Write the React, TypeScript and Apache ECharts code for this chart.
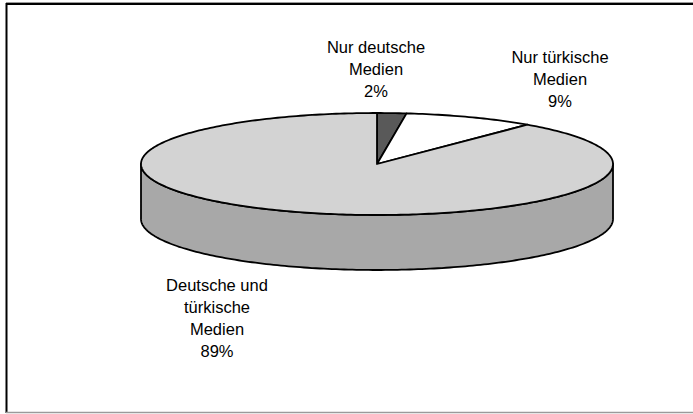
import React, { useEffect, useRef } from "react";
import * as echarts from "echarts";

const categories = [
  "Nur deutsche\nMedien",
  "Nur türkische\nMedien",
  "Deutsche und\ntürkische\nMedien",
];
const values = [2, 9, 89];
const sliceColors = ["#595959", "#ffffff", "#d3d3d3"];
const sideColors = ["#3f3f3f", "#c0c0c0", "#a8a8a8"];
const labelCenters = [
  [376, 69],
  [560, 79],
  [217, 318],
];

const CX = 377;
const CY = 164;
const RX = 236;
const RY = 51;
const DEPTH = 55;
const FONT = "'Liberation Sans', Arial, sans-serif";

function pt(deg: number, dy = 0): number[] {
  const r = (deg * Math.PI) / 180;
  return [CX + RX * Math.cos(r), CY - RY * Math.sin(r) + dy];
}
function arc(from: number, to: number, dy: number): number[][] {
  const pts: number[][] = [];
  const n = Math.max(2, Math.ceil(Math.abs(from - to)));
  for (let i = 0; i <= n; i++) pts.push(pt(from + ((to - from) * i) / n, dy));
  return pts;
}

const total = values.reduce((a, b) => a + b, 0);

function renderItem(params: any, api: any) {
  const i = params.dataIndex;
  const v = api.value(0);
  const before = values.slice(0, i).reduce((a, b) => a + b, 0);
  const a0 = 90 - (360 * before) / total;
  const a1 = 90 - (360 * (before + v)) / total;
  const children: any[] = [];
  const fronts = [
    [-180, 0],
    [-540, -360],
  ];
  for (const [lo, hi] of fronts) {
    const s = Math.min(a0, hi);
    const e = Math.max(a1, lo);
    if (s > e) {
      const pts = arc(s, e, 0).concat(arc(e, s, DEPTH));
      children.push({
        type: "polygon",
        z2: 1,
        shape: { points: pts },
        style: { fill: sideColors[i], stroke: "#000", lineWidth: 1.8, lineJoin: "round" },
      });
    }
  }
  children.push({
    type: "polygon",
    z2: 5,
    shape: { points: [[CX, CY]].concat(arc(a0, a1, 0)) },
    style: { fill: sliceColors[i], stroke: "#000", lineWidth: 1.8, lineJoin: "round" },
  });
  const pct = Math.round((v / total) * 100);
  children.push({
    type: "text",
    z2: 10,
    style: {
      text: categories[i] + "\n" + pct + "%",
      x: labelCenters[i][0],
      y: labelCenters[i][1],
      align: "center",
      verticalAlign: "middle",
      fontSize: 16.5,
      lineHeight: 22,
      fontFamily: FONT,
      fill: "#000",
    },
  });
  return { type: "group", children };
}

export default function App() {
  const ref = useRef<HTMLDivElement>(null);
  useEffect(() => {
    if (!ref.current) return;
    const chart = echarts.init(ref.current, undefined, { renderer: "svg" });
    chart.setOption({
      animation: false,
      backgroundColor: "#ffffff",
      graphic: [
        { type: "line", shape: { x1: 6, y1: 2.5, x2: 693, y2: 2.5 }, style: { stroke: "#9a9a9a", lineWidth: 1 } },
        { type: "line", shape: { x1: 6, y1: 4, x2: 693, y2: 4 }, style: { stroke: "#000", lineWidth: 2 } },
        { type: "line", shape: { x1: 6.5, y1: 3, x2: 6.5, y2: 413 }, style: { stroke: "#000", lineWidth: 2 } },
        { type: "line", shape: { x1: 6, y1: 412.5, x2: 693, y2: 412.5 }, style: { stroke: "#9a9a9a", lineWidth: 1.5 } },
      ],
      series: [
        {
          type: "custom",
          coordinateSystem: "none",
          renderItem,
          data: values.map((v, i) => ({ name: categories[i], value: [v] })),
        },
      ],
    });
    return () => chart.dispose();
  }, []);
  return (
    <div
      ref={ref}
      style={{ position: "fixed", left: 0, top: 0, width: 693, height: 414 }}
    />
  );
}
